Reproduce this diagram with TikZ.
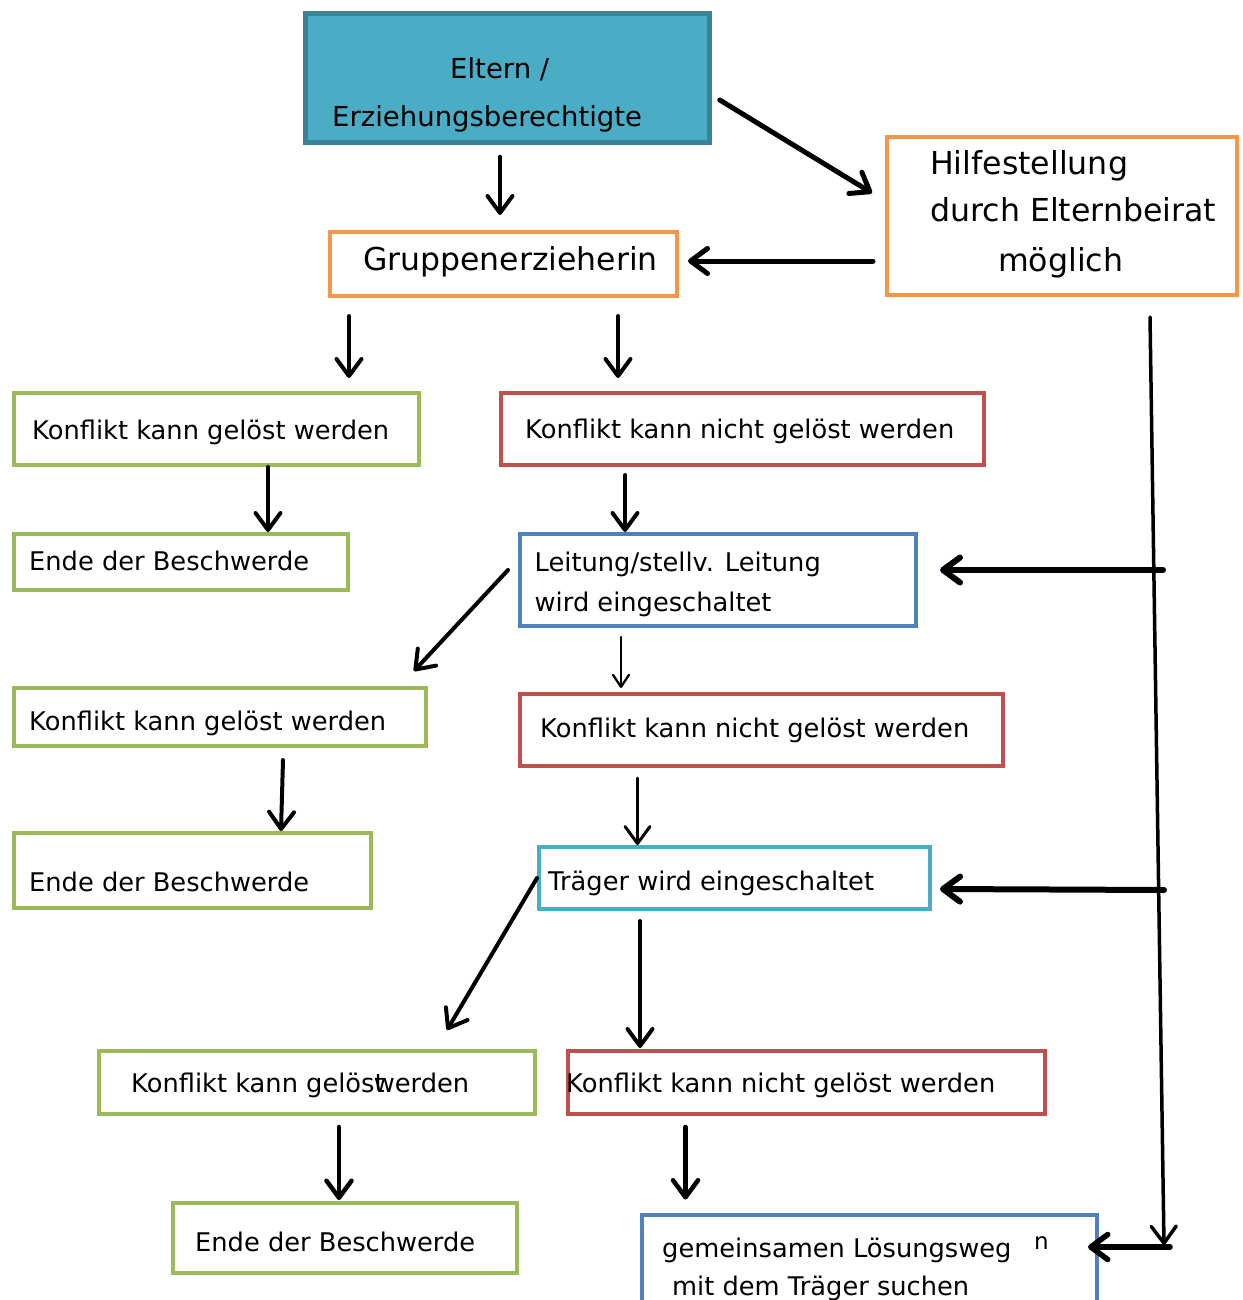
\documentclass[tikz,border=0pt]{standalone}
\usepackage{fontspec}
\setmainfont{DejaVu Sans}
\usetikzlibrary{arrows.meta}
\definecolor{cgreen}{HTML}{9BBB59}
\definecolor{cred}{HTML}{C0504D}
\definecolor{cblue}{HTML}{4F81BD}
\definecolor{caqua}{HTML}{4BACC6}
\definecolor{corange}{HTML}{F79646}
\definecolor{celtfill}{HTML}{4BACC6}
\definecolor{celtdraw}{HTML}{3A8296}
\tikzset{
  box/.style={draw, rectangle, line width=4pt, inner sep=0pt, fill=white},
  txt/.style={anchor=base west, inner sep=0pt, font=\fontsize{25.7pt}{30pt}\selectfont},
  bigtxt/.style={anchor=base west, inner sep=0pt, font=\fontsize{31.6pt}{36pt}\selectfont},
  elttxt/.style={anchor=base west, inner sep=0pt, font=\fontsize{27.5pt}{32pt}\selectfont},
  conn/.style={line width=4pt, line cap=round,
    -{Straight Barb[length=17pt,width=25pt,round]}},
  thinconn/.style={line width=2.3pt, line cap=round,
    -{Straight Barb[length=12pt,width=16pt,round]}},
}
\begin{document}
\begin{tikzpicture}[x=1pt,y=-1pt]
\clip (0,0) rectangle (1242,1300);
\fill[white] (0,0) rectangle (1242,1300);

% boxes
\node[box, fill=celtfill, draw=celtdraw, line width=4.5pt, minimum width=404pt, minimum height=129pt] (eltern) at (507.5,78) {};
\node[box, draw=corange, minimum width=350pt, minimum height=158pt] (hilfe) at (1062,216) {};
\node[box, draw=corange, minimum width=347pt, minimum height=64pt] (grp) at (503.5,264) {};
\node[box, draw=cgreen, minimum width=405pt, minimum height=72pt] (k1) at (216.5,429) {};
\node[box, draw=cred, minimum width=483pt, minimum height=72pt] (kn1) at (742.5,429) {};
\node[box, draw=cgreen, minimum width=334pt, minimum height=56pt] (e1) at (181,562) {};
\node[box, draw=cblue, minimum width=396pt, minimum height=92pt] (lt) at (718,580) {};
\node[box, draw=cgreen, minimum width=412pt, minimum height=58pt] (k2) at (220,717) {};
\node[box, draw=cred, minimum width=483pt, minimum height=72pt] (kn2) at (761.5,730) {};
\node[box, draw=cgreen, minimum width=357pt, minimum height=75pt] (e2) at (192.5,870.5) {};
\node[box, draw=caqua, minimum width=391pt, minimum height=62pt] (tr) at (734.5,878) {};
\node[box, draw=cgreen, minimum width=436pt, minimum height=63pt] (k3) at (317,1082.5) {};
\node[box, draw=cred, minimum width=477pt, minimum height=63pt] (kn3) at (806.5,1082.5) {};
\node[box, draw=cgreen, minimum width=344pt, minimum height=70pt] (e3) at (345,1238) {};
\node[box, draw=cblue, minimum width=455pt, minimum height=104pt] (gem) at (869.5,1266.5) {};

% texts
\node[elttxt] (t-elt1) at (450,79) {Eltern /};
\node[elttxt] (t-elt2) at (332,127) {Erziehungsberechtigte};
\node[bigtxt] (t-h1) at (930,175) {Hilfestellung};
\node[bigtxt] (t-h2) at (930,222) {durch Elternbeirat};
\node[bigtxt] (t-h3) at (998,271) {möglich};
\node[bigtxt, font=\fontsize{31.5pt}{36pt}\selectfont] (t-grp) at (363,270) {Gruppenerzieherin};
\node[txt] (t-k1) at (32,439) {Konflikt kann gelöst werden};
\node[txt] (t-kn1) at (525,438) {Konflikt kann nicht gelöst werden};
\node[txt] (t-e1) at (29,570) {Ende der Beschwerde};
\node[txt] (t-lt1) at (534.5,571) {Leitung/stellv. Leitung};
\node[txt] (t-lt2) at (534.5,611) {wird eingeschaltet};
\node[txt] (t-k2) at (29,730) {Konflikt kann gelöst werden};
\node[txt] (t-kn2) at (540,737) {Konflikt kann nicht gelöst werden};
\node[txt] (t-e2) at (29,891) {Ende der Beschwerde};
\node[txt] (t-tr) at (548,890) {Träger wird eingeschaltet};
\node[txt] (t-k3) at (131,1092) {Konflikt kann gelöst\kern-0.42em werden};
\node[txt] (t-kn3) at (566,1092) {Konflikt kann nicht gelöst werden};
\node[txt] (t-e3) at (195,1251) {Ende der Beschwerde};
\node[txt] (t-gem1) at (662,1257) {gemeinsamen Lösungsweg};
\node[txt, font=\fontsize{23pt}{26pt}\selectfont] (t-gemn) at (1034,1249) {n};
\node[txt] (t-gem2) at (672,1295) {mit dem Träger suchen};

% junction coordinates on the long right-hand line
\coordinate (jtop) at ([shift={(88,20)}]hilfe.south);
\coordinate (jbot) at (1164,1245);

% connectors
\draw[conn] ([shift={(-7.5,12)}]eltern.south) -- ([shift={(-3.5,-15)}]grp.north);
\draw[conn, line width=5pt] ([shift={(8,22)}]eltern.east) -- ([shift={(-13,-23)}]hilfe.west);
\draw[conn, line width=5pt] ([shift={(-12,45)}]hilfe.west) -- ([shift={(9,-3)}]grp.east);
\draw[conn] ([shift={(-154.5,18)}]grp.south) -- ([shift={(132.5,-13)}]k1.north);
\draw[conn] ([shift={(114.5,18)}]grp.south) -- ([shift={(-124.5,-13)}]kn1.north);
\draw[conn] ([shift={(51.5,0)}]k1.south) -- ([shift={(87,0)}]e1.north);
\draw[conn] ([shift={(-117.5,8)}]kn1.south) -- ([shift={(-93,0)}]lt.north);
\draw[conn] ([shift={(-10,-10)}]lt.west) -- ([shift={(194,-15)}]k2.north);
\draw[thinconn] ([shift={(-97,9)}]lt.south) -- ([shift={(-140.5,-4)}]kn2.north);
\draw[conn] ([shift={(63,12)}]k2.south) -- ([shift={(88.5,0)}]e2.north);
\draw[conn, line width=3pt] ([shift={(-124,10)}]kn2.south) -- ([shift={(-97,0)}]tr.north);
\draw[conn] (tr.west) -- ([shift={(130,-19)}]k3.north);
\draw[conn] ([shift={(-94.5,10)}]tr.south) -- ([shift={(-166.5,-1)}]kn3.north);
\draw[conn, line width=4.5pt] ([shift={(22,11)}]k3.south) -- ([shift={(-6,-1)}]e3.north);
\draw[conn, line width=4.5pt] ([shift={(-121,11)}]kn3.south) -- ([shift={(-184,-13)}]gem.north);
\draw[conn, line width=3.5pt] (jtop) -- (jbot);
\draw[conn, line width=6pt] ([shift={(245,-10)}]lt.east) -- ([shift={(22,-10)}]lt.east);
\draw[conn, line width=6pt] ([shift={(232,12)}]tr.east) -- ([shift={(8,11)}]tr.east);
\draw[conn, line width=5.5pt] ([shift={(71,-19.5)}]gem.east) -- ([shift={(-11,-19.5)}]gem.east);
\end{tikzpicture}
\end{document}
